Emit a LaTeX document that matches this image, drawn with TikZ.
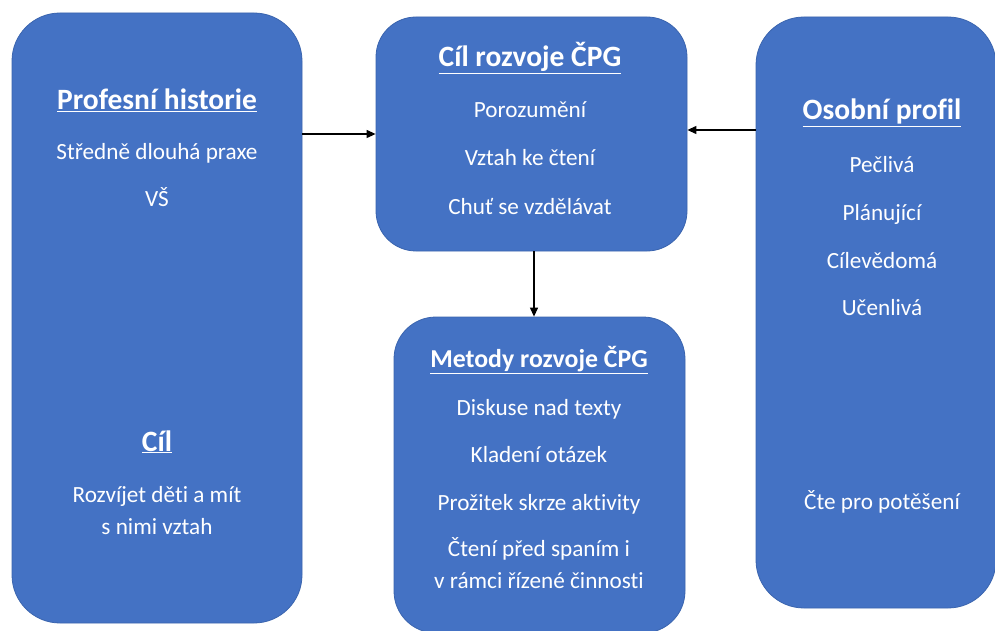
\documentclass[tikz,border=0pt]{standalone}
\usepackage{fontspec}
\setmainfont{Carlito}[Ligatures={NoCommon}]
\usetikzlibrary{arrows.meta}
\definecolor{boxblue}{HTML}{4472C4}
\definecolor{boxedge}{HTML}{3A64AE}
\begin{document}
\begin{tikzpicture}[x=1pt,y=-1pt,
  panel/.style={draw=boxedge,line width=0.8pt,fill=boxblue,rounded corners=#1,inner sep=0pt},
  panel/.default=42pt,
  head/.style={text=white,font=\fontsize{29.5}{34}\selectfont\bfseries,inner sep=0pt,anchor=base},
  item/.style={text=white,font=\fontsize{23.2}{31.5}\selectfont,inner sep=0pt,anchor=base,align=center},
  arr/.style={-{Triangle[length=9pt,width=8pt]},line width=1.2pt,black}]
\useasboundingbox (0,0) rectangle (995,631);
% boxes
\node[panel=48pt,minimum width=290pt,minimum height=610pt] (left) at (157,318) {};
\node[panel=40pt,minimum width=311pt,minimum height=234pt] (top) at (531.5,134) {};
\node[panel=42pt,minimum width=291pt,minimum height=316pt] (bot) at (539.5,475) {};
\node[panel=48pt,minimum width=240pt,minimum height=591pt] (right) at (876,312.5) {};
% left texts
\node[head] (lh) at (157,110) {\underline{Profesní historie}};
\node[item] (l1) at (157,160) {Středně dlouhá praxe};
\node[item] (l2) at (157,206) {VŠ};
\node[head] (lc) at (157,451) {\underline{Cíl}};
\node[item] (l3) at (157,534) {Rozvíjet děti a mít\\s nimi vztah};
% top texts
\node[head] (th) at (530,67) {\underline{Cíl rozvoje ČPG}};
\node[item] (t1) at (530,118) {Porozumění};
\node[item] (t2) at (530,166) {Vztah ke čtení};
\node[item] (t3) at (530,214) {Chuť se vzdělávat};
% bottom texts
\node[head,font=\fontsize{25.8}{30}\selectfont\bfseries] (bh) at (539,367) {\underline{Metody rozvoje ČPG}};
\node[item] (b1) at (539,415) {Diskuse nad texty};
\node[item] (b2) at (539,462) {Kladení otázek};
\node[item] (b3) at (539,510) {Prožitek skrze aktivity};
\node[item] (b4) at (539,588) {Čtení před spaním i\\v rámci řízené činnosti};
% right texts
\node[head] (rh) at (882,120) {\underline{Osobní profil}};
\node[item] (r1) at (882,172) {Pečlivá};
\node[item] (r2) at (882,220) {Plánující};
\node[item] (r3) at (882,268) {Cílevědomá};
\node[item] (r4) at (882,315) {Učenlivá};
\node[item] (r5) at (882,509) {Čte pro potěšení};
% connectors
\draw[arr] (left.east |- 0,134) -- (top.west |- 0,134);
\draw[arr] (right.west |- 0,130) -- (top.east |- 0,130);
\draw[arr] (top.south -| 534,0) -- (bot.north -| 534,0);
\end{tikzpicture}
\end{document}
